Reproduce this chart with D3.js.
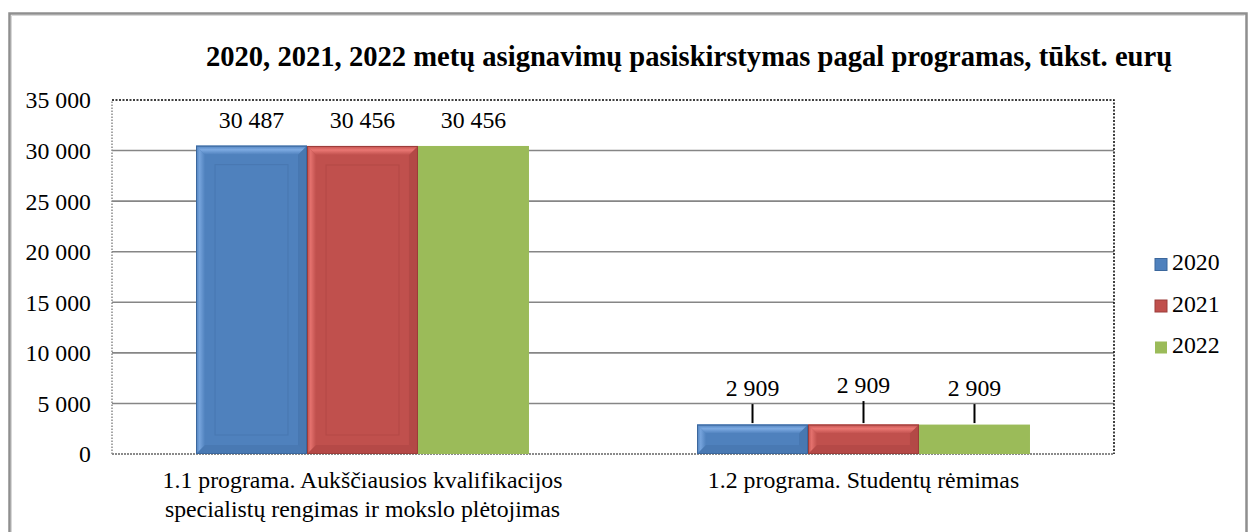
<!DOCTYPE html>
<html>
<head>
<meta charset="utf-8">
<script src="https://cdn.jsdelivr.net/npm/d3@7"></script>
<style>
  html, body { margin: 0; padding: 0; background: #fff; }
  svg { display: block; }
  text { font-family: "Liberation Serif", "Times New Roman", serif; fill: #000; }
</style>
</head>
<body>
<svg id="chart" width="1254" height="532"></svg>
<script>
// ---- data ----
const categories = ["1.1 programa", "1.2 programa"];
const categoryLines = [
  ["1.1 programa. Aukščiausios kvalifikacijos", "specialistų rengimas ir mokslo plėtojimas"],
  ["1.2 programa. Studentų rėmimas"]
];
const years = ["2020", "2021", "2022"];
const values2020 = [30487, 2909];
const values2021 = [30456, 2909];
const values2022 = [30456, 2909];
const yTicks = [0, 5000, 10000, 15000, 20000, 25000, 30000, 35000];
const title = "2020, 2021, 2022 metų asignavimų pasiskirstymas pagal programas, tūkst. eurų";

const seriesValues = [values2020, values2021, values2022];
const colors = [
  { base: "#4F81BD", light: "#7DAAE2", dark: "#3B679C", bevel: true },
  { base: "#C0504D", light: "#EA7773", dark: "#9C3D3A", bevel: true },
  { base: "#9BBB59", light: "#9BBB59", dark: "#9BBB59", bevel: false }
];

const FS = 23.8;

const svg = d3.select("#chart");
const defs = svg.append("defs");

// ---- layout ----
const plot = { left: 112, right: 1114, top: 100, bottom: 454 };

const x0 = d3.scaleBand().domain(categories).range([plot.left, plot.right]).paddingInner(0).paddingOuter(0);
const x1 = d3.scaleBand().domain(years).range([0, x0.bandwidth()]).paddingInner(0).paddingOuter(0.757);
const y = d3.scaleLinear().domain([0, 35000]).range([plot.bottom, plot.top]);

const fmt = v => d3.format(",")(v).replace(/,/g, " ");

// outer frame
svg.append("path")
  .attr("d", `M9.5,540 L9.5,13.5 L1246.5,13.5 L1246.5,540`)
  .attr("fill", "none").attr("stroke", "#8f8f8f").attr("stroke-width", 2.5);
svg.append("path")
  .attr("d", `M11.5,540 L11.5,15.5 L1244.5,15.5`)
  .attr("fill", "none").attr("stroke", "#d8d8d8").attr("stroke-width", 1);

// title
svg.append("text")
  .attr("x", 689).attr("y", 66)
  .attr("text-anchor", "middle")
  .attr("font-size", 28.6).attr("font-weight", "bold")
  .text(title);

// gridlines
const grid = svg.append("g");
grid.selectAll("line").data(yTicks.filter(t => t > 0 && t < 35000)).join("line")
  .attr("x1", plot.left).attr("x2", plot.right)
  .attr("y1", d => y(d)).attr("y2", d => y(d))
  .attr("stroke", "#868686").attr("stroke-width", 1.6);

// plot-area border
svg.append("path")
  .attr("d", `M${plot.left},${plot.bottom} L${plot.left},${plot.top}`)
  .attr("stroke", "#8a8a8a").attr("stroke-width", 1.5).attr("stroke-dasharray", "1.5,1.5").attr("fill", "none");
svg.append("path")
  .attr("d", `M${plot.left},${plot.bottom} L${plot.right},${plot.bottom}`)
  .attr("stroke", "#8a8a8a").attr("stroke-width", 2).attr("stroke-dasharray", "2,1").attr("fill", "none");
svg.append("path")
  .attr("d", `M${plot.left},${plot.top} L${plot.right},${plot.top} L${plot.right},${plot.bottom}`)
  .attr("stroke", "#000").attr("stroke-width", 1.5).attr("stroke-dasharray", "2,1.5").attr("fill", "none");

// y axis labels
const yAxis = d3.axisLeft(y).tickValues(yTicks).tickFormat(fmt).tickSize(0).tickPadding(0);
const yg = svg.append("g").attr("transform", `translate(91,0)`).call(yAxis);
yg.select(".domain").remove();
yg.selectAll("text")
  .attr("font-size", FS)
  .attr("fill", "#000")
  .attr("dy", "0.33em");

// gradients for bevel
colors.forEach((c, i) => {
  const gt = defs.append("linearGradient").attr("id", "gt" + i).attr("x1", 0).attr("y1", 0).attr("x2", 0).attr("y2", 1);
  gt.append("stop").attr("offset", "0").attr("stop-color", c.base);
  gt.append("stop").attr("offset", "0.45").attr("stop-color", c.light);
  gt.append("stop").attr("offset", "1").attr("stop-color", c.base);
  const gl = defs.append("linearGradient").attr("id", "gl" + i).attr("x1", 0).attr("y1", 0).attr("x2", 1).attr("y2", 0);
  gl.append("stop").attr("offset", "0").attr("stop-color", c.base);
  gl.append("stop").attr("offset", "0.4").attr("stop-color", c.light);
  gl.append("stop").attr("offset", "1").attr("stop-color", c.base);
});

function drawBar(g, i, bx, by, bw, bh) {
  const c = colors[i];
  g.append("rect").attr("x", bx).attr("y", by).attr("width", bw).attr("height", bh).attr("fill", c.base);
  if (!c.bevel) return;
  const b = Math.min(9, bh / 3);
  g.append("polygon")
    .attr("points", `${bx},${by} ${bx + bw},${by} ${bx + bw - b},${by + b} ${bx + b},${by + b}`)
    .attr("fill", `url(#gt${i})`);
  g.append("polygon")
    .attr("points", `${bx},${by} ${bx + b},${by + b} ${bx + b},${by + bh - b} ${bx},${by + bh}`)
    .attr("fill", `url(#gl${i})`).attr("opacity", 0.85);
  g.append("polygon")
    .attr("points", `${bx + bw},${by} ${bx + bw - b},${by + b} ${bx + bw - b},${by + bh - b} ${bx + bw},${by + bh}`)
    .attr("fill", c.dark).attr("opacity", 0.35);
  g.append("polygon")
    .attr("points", `${bx},${by + bh} ${bx + b},${by + bh - b} ${bx + bw - b},${by + bh - b} ${bx + bw},${by + bh}`)
    .attr("fill", c.dark).attr("opacity", 0.3);
  if (bh > 60) {
    g.append("rect").attr("x", bx + 19).attr("y", by + 19).attr("width", bw - 38).attr("height", bh - 38)
      .attr("fill", "none").attr("stroke", c.dark).attr("stroke-opacity", 0.35).attr("stroke-width", 1);
  }
  g.append("rect").attr("x", bx + 0.5).attr("y", by + 0.5).attr("width", bw - 1).attr("height", bh - 1)
    .attr("fill", "none").attr("stroke", c.dark).attr("stroke-width", 1);
}

// bars
const barsG = svg.append("g");
categories.forEach((cat, ci) => {
  years.forEach((yr, si) => {
    const v = seriesValues[si][ci];
    const bx = x0(cat) + x1(yr);
    const by = y(v);
    drawBar(barsG, si, bx, by, x1.bandwidth(), y(0) - by);
  });
});

// data labels
const labelOffsets = [
  [17.5, 17.5, 17.5],
  [28.5, 31.5, 28.5]
];
const labG = svg.append("g");
categories.forEach((cat, ci) => {
  years.forEach((yr, si) => {
    const v = seriesValues[si][ci];
    const cx = x0(cat) + x1(yr) + x1.bandwidth() / 2;
    const top = y(v);
    const baseY = top - labelOffsets[ci][si];
    labG.append("text")
      .attr("x", cx).attr("y", baseY)
      .attr("text-anchor", "middle").attr("font-size", FS)
      .text(fmt(v));
    if (ci === 1) {
      labG.append("line")
        .attr("x1", cx).attr("x2", cx)
        .attr("y1", baseY + 8).attr("y2", top - 1.5)
        .attr("stroke", "#000").attr("stroke-width", 2);
    }
  });
});

// category labels
const catG = svg.append("g");
categories.forEach((cat, ci) => {
  const cx = x0(cat) + x0.bandwidth() / 2;
  categoryLines[ci].forEach((line, li) => {
    catG.append("text")
      .attr("x", cx).attr("y", 488 + li * 29)
      .attr("text-anchor", "middle").attr("font-size", FS)
      .text(line);
  });
});

// legend
const legG = svg.append("g");
years.forEach((yr, si) => {
  const ly = 270 + si * 41.5;
  const c = colors[si];
  legG.append("rect").attr("x", 1155).attr("y", ly - 11.5).attr("width", 12).attr("height", 12)
    .attr("fill", c.base).attr("stroke", c.bevel ? c.dark : "none").attr("stroke-width", 1);
  legG.append("text").attr("x", 1172).attr("y", ly).attr("font-size", FS).text(yr);
});
</script>
</body>
</html>
